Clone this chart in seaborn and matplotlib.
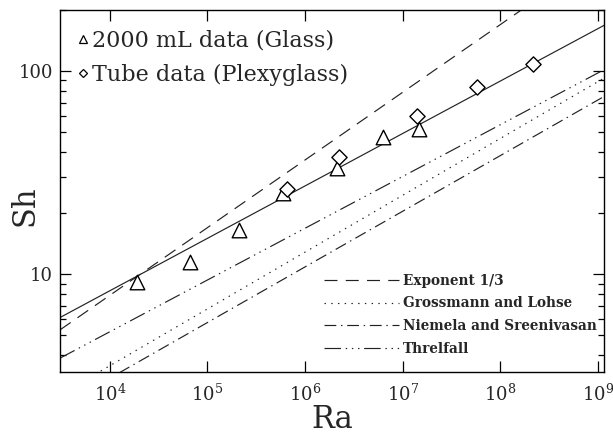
import numpy as np
import pandas as pd
import matplotlib
matplotlib.use("Agg")
import matplotlib.pyplot as plt
import seaborn as sns
from matplotlib.lines import Line2D
from matplotlib.ticker import FixedLocator, NullLocator, LogLocator, NullFormatter, FixedFormatter

# ---- data ----
glass_ra = [1.88e4, 6.6e4, 2.12e5, 5.9e5, 2.1e6, 6.2e6, 1.48e7]
glass_sh = [9.2, 11.5, 16.6, 25.2, 33.4, 47.6, 51.6]
tube_ra = [6.5e5, 2.2e6, 1.41e7, 5.8e7, 2.13e8]
tube_sh = [26.4, 37.9, 59.8, 83.2, 107.9]

line_ra = [10**3.49, 10**9.06]
fit_sh = [6.12, 168.0]
exp13_sh = [5.32, 383.0]
gl_sh = [2.55, 92.4]
ns_sh = [2.23, 75.0]
th_sh = [3.86, 101.6]

x_ticks = [1e4, 1e5, 1e6, 1e7, 1e8, 1e9]
x_ticklabels = ["$10^{4}$", "$10^{5}$", "$10^{6}$", "$10^{7}$", "$10^{8}$", "$10^{9}$"]
y_ticks = [10, 100]
y_ticklabels = ["10", "100"]

sns.set_style("ticks")
plt.rcParams["font.family"] = ["DejaVu Serif", "DejaVu Sans"]
plt.rcParams["mathtext.fontset"] = "dejavuserif"

fig = plt.figure(figsize=(6.13, 4.41), dpi=100)
ax = fig.add_axes([60 / 613, 1 - 372 / 441, 544 / 613, 362 / 441])
ax.set_xscale("log")
ax.set_yscale("log")

lines_df = {
    "fit": fit_sh, "exp": exp13_sh, "gl": gl_sh, "ns": ns_sh, "th": th_sh,
}
styles = {
    "fit": dict(linestyle="-", label=None),
    "exp": dict(linestyle=(0, (11, 7)), label="Exponent 1/3"),
    "gl": dict(linestyle=(0, (1.2, 4.5)), label="Grossmann and Lohse"),
    "ns": dict(linestyle=(0, (10, 4, 1.2, 4)), label="Niemela and Sreenivasan"),
    "th": dict(linestyle=(0, (14, 4, 1.2, 4, 1.2, 4, 1.2, 4)), label="Threlfall"),
}
for key, sh in lines_df.items():
    d = pd.DataFrame({"Ra": line_ra, "Sh": sh})
    st = styles[key]
    sns.lineplot(data=d, x="Ra", y="Sh", ax=ax, color="#222222", lw=0.85,
                 linestyle=st["linestyle"], legend=False)

g = pd.DataFrame({"Ra": glass_ra, "Sh": glass_sh})
t = pd.DataFrame({"Ra": tube_ra, "Sh": tube_sh})
sns.scatterplot(data=g, x="Ra", y="Sh", ax=ax, marker="^", s=110,
                facecolor="white", edgecolor="black", linewidth=1.0, zorder=5)
sns.scatterplot(data=t, x="Ra", y="Sh", ax=ax, marker="D", s=60,
                facecolor="white", edgecolor="black", linewidth=1.0, zorder=5)

ax.set_xlim(line_ra[0], line_ra[1])
ax.set_ylim(3.3, 200)

ax.xaxis.set_major_locator(FixedLocator(x_ticks))
ax.xaxis.set_major_formatter(FixedFormatter(x_ticklabels))
ax.xaxis.set_minor_locator(NullLocator())
ax.yaxis.set_major_locator(FixedLocator(y_ticks))
ax.yaxis.set_major_formatter(FixedFormatter(y_ticklabels))
ax.yaxis.set_minor_locator(LogLocator(base=10, subs=np.arange(2, 10)))
ax.yaxis.set_minor_formatter(NullFormatter())

ax.tick_params(which="both", direction="in", top=True, right=True, color="black", width=0.9)
ax.tick_params(which="major", length=8)
ax.tick_params(which="minor", length=4)
ax.tick_params(axis="x", labelsize=13, pad=8)
ax.tick_params(axis="y", labelsize=13, pad=5)
for sp in ax.spines.values():
    sp.set_color("black")
    sp.set_linewidth(1.0)

ax.set_xlabel("Ra", fontsize=22, labelpad=0)
ax.set_ylabel("Sh", fontsize=22)
ax.yaxis.set_label_coords(-0.036, 0.46)

# upper-left legend (data)
h1 = [Line2D([], [], marker="^", ls="none", mfc="white", mec="black", ms=6, mew=0.9),
      Line2D([], [], marker="D", ls="none", mfc="white", mec="black", ms=4.5, mew=0.9)]
leg1 = ax.legend(h1, ["2000 mL data (Glass)", "Tube data (Plexyglass)"],
                 loc="upper left", bbox_to_anchor=(0.03, 0.945), frameon=False,
                 fontsize=16, handlelength=0.6, handletextpad=0.1,
                 labelspacing=0.55, borderpad=0, borderaxespad=0)
ax.add_artist(leg1)

# lower-right legend (lines)
keys = ["exp", "gl", "ns", "th"]
h2 = [Line2D([], [], color="#222222", lw=0.85, linestyle=styles[k]["linestyle"]) for k in keys]
leg2 = ax.legend(h2, [styles[k]["label"] for k in keys],
                 loc="upper left", bbox_to_anchor=(0.485, 0.272), frameon=False,
                 prop=dict(size=9.8, weight="bold"), handlelength=5.5,
                 handletextpad=0.3, labelspacing=0.65, borderpad=0, borderaxespad=0)

fig.savefig("out.png", dpi=100)
